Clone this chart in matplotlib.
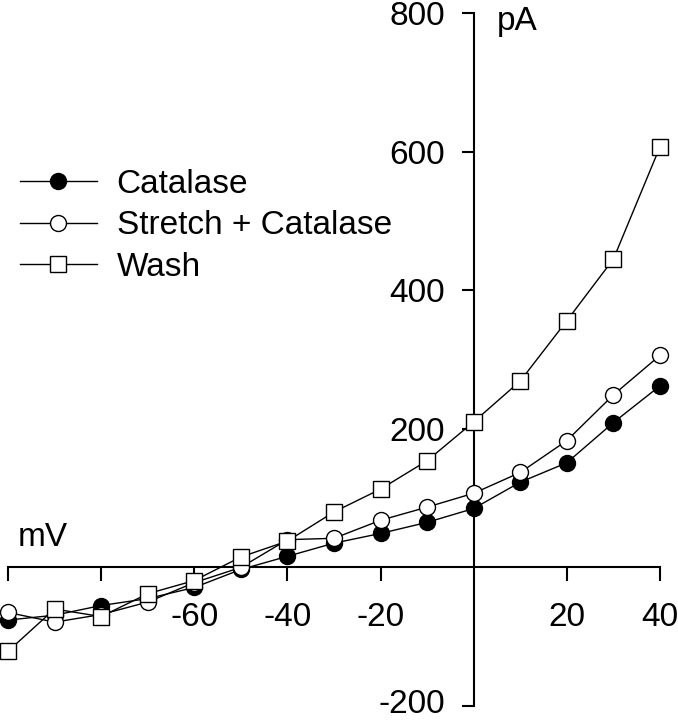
import numpy as np
import matplotlib
matplotlib.use('Agg')
import matplotlib.pyplot as plt
import matplotlib.transforms as mtrans

plt.rcParams['font.family'] = ['Liberation Sans', 'DejaVu Sans']

# membrane potential (mV)
mv = [-100, -90, -80, -70, -60, -50, -40, -30, -20, -10, 0, 10, 20, 30, 40]

# current (pA)
catalase = [-76, -69, -55, -45, -29, -3, 16, 35, 49, 65, 85, 123, 151, 209, 262]
stretch = [-65, -79, -68, -50, -22, 0, 40, 42, 68, 87, 107, 137, 183, 249, 306]
wash = [-121, -60, -71, -38, -19, 15, 38, 80, 113, 154, 210, 269, 356, 445, 607]

xticks = [-100, -80, -60, -40, -20, 20, 40]
xlabels = ['', '', '-60', '-40', '-20', '20', '40']
yticks = [-200, 200, 400, 600, 800]
ylabels = ['-200', '200', '400', '600', '800']

fs = 24
fig = plt.figure(figsize=(6.78, 7.2), dpi=100)
ax = fig.add_axes([8/678, 1-706/720, 652/678, 693/720])

ms = 11.5
ax.plot(mv, catalase, '-o', color='black', lw=1.0, ms=ms, mfc='black', mec='black',
        mew=1.0, clip_on=False, label='Catalase', zorder=3)
ax.plot(mv, stretch, '-o', color='black', lw=1.0, ms=ms, mfc='white', mec='black',
        mew=1.0, clip_on=False, label='Stretch + Catalase', zorder=4)
ax.plot(mv, wash, '-s', color='black', lw=1.0, ms=11, mfc='white', mec='black',
        mew=1.0, clip_on=False, label='Wash', zorder=5)

ax.set_xlim(-100, 40)
ax.set_ylim(-200, 800)

ax.spines['left'].set_position(('data', 0))
ax.spines['bottom'].set_position(('data', 0))
ax.spines['top'].set_visible(False)
ax.spines['right'].set_visible(False)
ax.spines['left'].set_linewidth(1.5)
ax.spines['bottom'].set_linewidth(1.5)

ax.set_xticks(xticks)
ax.set_xticklabels(xlabels)
ax.set_yticks(yticks)
ax.set_yticklabels(ylabels)
ax.tick_params(axis='x', direction='out', length=10, width=1.5, pad=15, labelsize=fs)
ax.tick_params(axis='y', direction='out', length=8.5, width=1.5, pad=12, labelsize=fs)

# nudge the bottom label up a little so it stays inside the picture
lab = ax.get_yticklabels()[0]
lab.set_transform(lab.get_transform() + mtrans.ScaledTranslation(0, 5/100, fig.dpi_scale_trans))

ax.text(-98, 31, 'mV', fontsize=fs, va='baseline', ha='left')
ax.text(4.9, 776, 'pA', fontsize=fs, va='baseline', ha='left')

ax.legend(loc='upper left', bbox_to_anchor=(20/678, 1-169/720), bbox_transform=fig.transFigure,
          frameon=False, fontsize=fs, handlelength=2.3, handletextpad=0.6,
          labelspacing=0.31, borderpad=0, borderaxespad=0)

fig.savefig('out.png', dpi=100)
